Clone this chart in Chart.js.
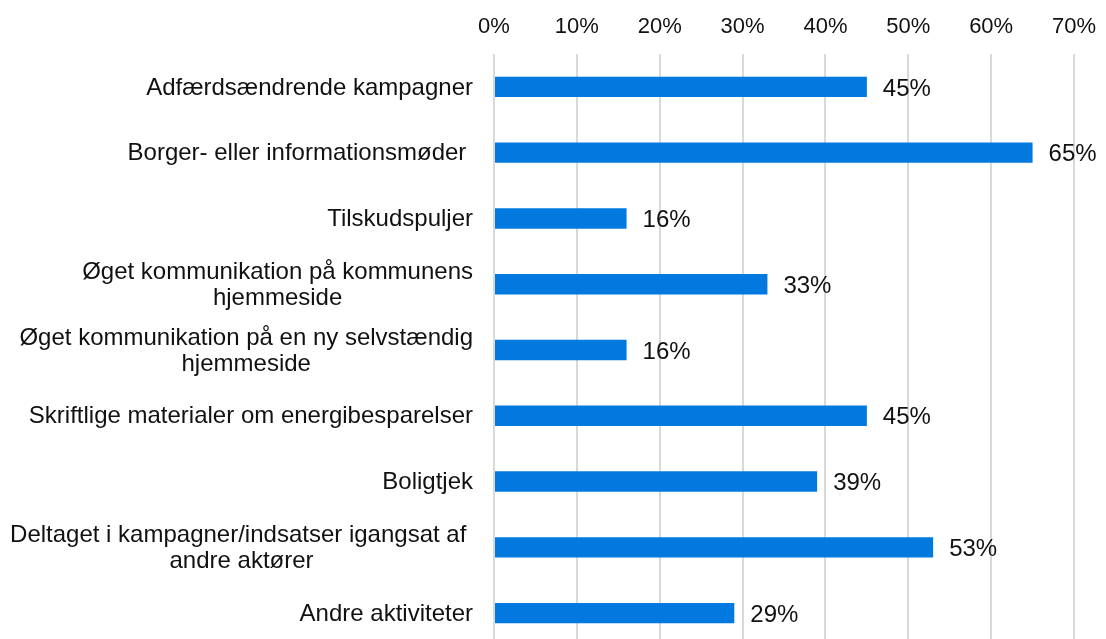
<!DOCTYPE html>
<html><head><meta charset="utf-8">
<script src="https://cdn.jsdelivr.net/npm/chart.js@4"></script>
<style>
html,body{margin:0;padding:0;background:#fff;overflow:hidden;width:1106px;height:639px}
#wrap{position:relative;width:1106px;height:660px}
</style></head><body>
<div id="wrap"><canvas id="c"></canvas></div>
<script>
const categories = [
  ["Adfærdsændrende kampagner"],
  ["Borger- eller informationsmøder "],
  ["Tilskudspuljer"],
  ["Øget kommunikation på kommunens", "hjemmeside"],
  ["Øget kommunikation på en ny selvstændig", "hjemmeside"],
  ["Skriftlige materialer om energibesparelser"],
  ["Boligtjek"],
  ["Deltaget i kampagner/indsatser igangsat af ", "andre aktører"],
  ["Andre aktiviteter"]
];
const values = [45, 65, 16, 33, 16, 45, 39, 53, 29];
const tickValues = [0, 10, 20, 30, 40, 50, 60, 70];

const FONT = '"Liberation Sans", Arial, sans-serif';

const labelPlugin = {
  id: 'labels',
  afterDraw(chart) {
    const ctx = chart.ctx;
    const y = chart.scales.y;
    const area = chart.chartArea;
    ctx.save();
    ctx.fillStyle = '#111';
    ctx.font = '24px ' + FONT;
    ctx.textBaseline = 'middle';
    const rightEdge = area.left - 21;
    const lh = 26;
    categories.forEach((lines, i) => {
      const cy = y.getPixelForValue(i) + 1;
      const widths = lines.map(l => ctx.measureText(l).width);
      const maxW = Math.max(...widths);
      const center = rightEdge - maxW / 2;
      const top = cy - (lines.length - 1) * lh / 2;
      lines.forEach((l, k) => {
        ctx.textAlign = 'center';
        ctx.fillText(l, center, top + k * lh);
      });
    });
    ctx.textAlign = 'left';
    const meta = chart.getDatasetMeta(0);
    meta.data.forEach((bar, i) => {
      ctx.fillText(values[i] + '%', bar.x + 16, bar.y + 2);
    });
    ctx.restore();
  }
};

new Chart(document.getElementById('c'), {
  type: 'bar',
  data: {
    labels: categories.map(c => c.join(' ')),
    datasets: [{
      data: values,
      backgroundColor: '#0279de',
      borderWidth: 0,
      categoryPercentage: 1,
      barPercentage: 0.31
    }]
  },
  options: {
    indexAxis: 'y',
    responsive: true,
    maintainAspectRatio: false,
    animation: false,
    layout: { padding: { left: 494, right: 32, top: 0, bottom: 14 } },
    plugins: { legend: { display: false }, tooltip: { enabled: false } },
    scales: {
      x: {
        position: 'top',
        min: 0, max: 70,
        afterBuildTicks(scale) { scale.ticks = tickValues.map(v => ({ value: v })); },
        afterFit(scale) { scale.height = 54; scale.paddingLeft = 0; scale.paddingRight = 0; },
        ticks: {
          callback: v => v + '%',
          color: '#111',
          font: { family: FONT, size: 22 },
          padding: 14,
          maxRotation: 0
        },
        grid: { color: '#d9d9d9', lineWidth: 2, drawTicks: false },
        border: { display: false }
      },
      y: {
        afterFit(scale) { scale.width = 0; },
        ticks: { display: false },
        grid: { display: false, drawTicks: false },
        border: { display: false }
      }
    }
  },
  plugins: [labelPlugin]
});
</script>
</body></html>
